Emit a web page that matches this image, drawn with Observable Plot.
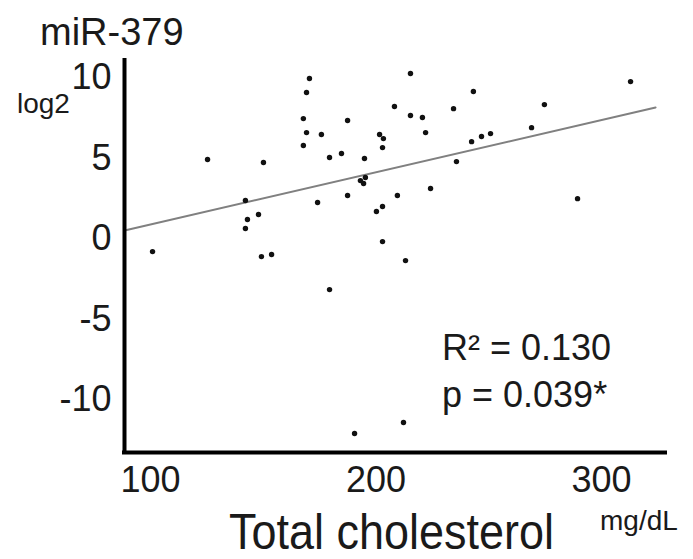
<!DOCTYPE html>
<html><head><meta charset="utf-8">
<script src="https://cdn.jsdelivr.net/npm/d3@7"></script>
<script src="https://cdn.jsdelivr.net/npm/@observablehq/plot@0.6"></script>
<style>body{margin:0;background:#fff;}</style>
</head><body><div id="chart"></div>
<script>
// Total cholesterol (mg/dL)
const cholesterol = [100.9,125.3,142.1,143.0,142.1,147.9,149.2,153.7,150.1,167.8,169.2,170.5,169.2,167.8,175.8,179.4,184.7,187.4,174.1,187.4,179.4,190.5,194.9,193.1,194.5,195.3,201.6,203.3,202.9,208.2,215.3,215.3,220.6,222.0,200.2,202.9,209.5,224.2,202.9,213.1,212.2,234.4,235.7,243.2,242.4,246.8,250.8,269.0,274.7,289.4,312.9];
// miR-379 (log2)
const mir379 = [-0.81,4.91,2.36,1.18,0.62,1.49,-1.12,-0.99,4.72,7.45,9.07,9.94,6.58,5.78,6.46,5.03,5.28,7.33,2.24,2.67,-3.17,-12.11,4.97,3.60,3.42,3.79,6.46,6.21,5.65,8.20,10.25,7.64,7.52,6.58,1.68,1.99,2.67,3.11,-0.19,-1.37,-11.43,8.07,4.78,9.13,6.02,6.34,6.52,6.89,8.32,2.48,9.75];
const xTicks = [100, 200, 300];
const yTicks = [-10, -5, 0, 5, 10];
// regression line end points
const fitX = [88.5, 324];
const fitY = [0.5, 8.14];
const xDomain = [88.47, 328.4];
const yDomain = [-13.29, 11.06];

const points = cholesterol.map((c, i) => ({c, m: mir379[i]}));
const fit = fitX.map((x, i) => ({x, y: fitY[i]}));

const chart = Plot.plot({
  width: 693, height: 559,
  marginTop: 60, marginRight: 28, marginBottom: 107, marginLeft: 124,
  style: {fontFamily: "'Liberation Sans', Arial, sans-serif", fontSize: "36px", background: "#fff", color: "#1a1a1a"},
  x: {domain: xDomain, ticks: xTicks, tickSize: 0, tickPadding: 14, label: null, tickFormat: d => String(d)},
  y: {domain: yDomain, ticks: yTicks, tickSize: 0, tickPadding: 13, label: null, tickFormat: d => String(d)},
  marks: [
    Plot.line(fit, {x: "x", y: "y", stroke: "#808080", strokeWidth: 2}),
    Plot.dot(points, {x: "c", y: "m", r: 2.7, fill: "#111", stroke: "none"}),
    Plot.ruleX([xDomain[0]], {stroke: "#000", strokeWidth: 4, strokeLinecap: "square"}),
    Plot.ruleY([yDomain[0]], {stroke: "#000", strokeWidth: 4, strokeLinecap: "square"})
  ]
});

const svg = d3.select(chart);
function label(txt, x, y, size) {
  return svg.append("text")
    .attr("x", x).attr("y", y)
    .attr("font-size", size)
    .attr("text-anchor", "start")
    .attr("fill", "#1a1a1a")
    .text(txt);
}
label("miR-379", 40, 45, 38);
label("log2", 17, 113, 28);
label("R\u00B2 = 0.130", 442, 360, 36);
label("p = 0.039*", 442, 407, 36);
label("mg/dL", 600, 530, 28);
svg.append("text")
  .attr("transform", "translate(229,549) scale(1,1.12)")
  .attr("font-size", 45)
  .attr("text-anchor", "start")
  .attr("fill", "#1a1a1a")
  .text("Total cholesterol");

document.getElementById("chart").appendChild(chart);
</script>
</body></html>
